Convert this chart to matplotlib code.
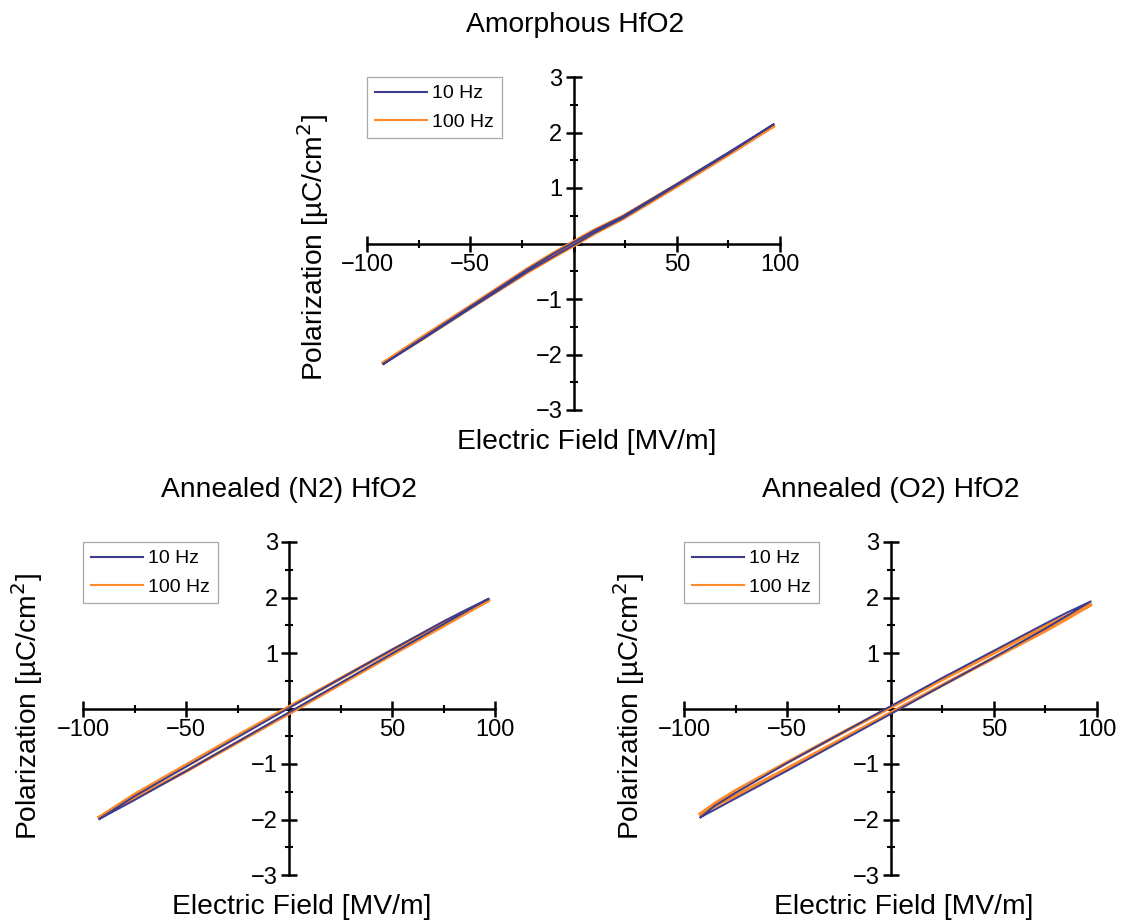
import matplotlib
matplotlib.use("Agg")
import matplotlib.pyplot as plt
from matplotlib.ticker import FixedLocator, FixedFormatter

plt.rcParams['font.family'] = ['Liberation Sans', 'DejaVu Sans']
plt.rcParams['axes.unicode_minus'] = True

# ---------------- data ----------------
titles = ["Amorphous HfO2", "Annealed (N2) HfO2", "Annealed (O2) HfO2"]
labels = ["10 Hz", "100 Hz"]
colors = ["#3d3d8c", "#ff8a2a"]

# Amorphous, 10 Hz: rising branch then falling branch
am10_E = [-92, -75, -50, -22, -10, 0, 10, 24, 50, 75, 97,
          75, 50, 24, 10, 0, -10, -22, -50, -75, -92]
am10_P = [-2.17, -1.77, -1.17, -0.50, -0.24, -0.03, 0.19, 0.46, 1.05, 1.62, 2.15,
          1.64, 1.07, 0.49, 0.23, 0.02, -0.19, -0.46, -1.14, -1.75, -2.17]
# Amorphous, 100 Hz
am100_E = [-92, -75, -50, -22, -10, 0, 10, 24, 50, 75, 97,
           75, 50, 24, 10, 0, -10, -22, -50, -75, -92]
am100_P = [-2.15, -1.76, -1.16, -0.51, -0.25, -0.04, 0.18, 0.45, 1.03, 1.60, 2.12,
           1.62, 1.06, 0.49, 0.24, 0.03, -0.18, -0.45, -1.13, -1.73, -2.15]

# Annealed N2, 10 Hz
n210_E = [-92, -85, -75, -50, -25, 0, 25, 50, 75, 85, 97,
          85, 75, 50, 25, 0, -25, -50, -75, -85, -92]
n210_P = [-1.99, -1.85, -1.65, -1.13, -0.60, -0.07, 0.46, 0.99, 1.52, 1.73, 1.98,
          1.76, 1.57, 1.06, 0.54, 0.01, -0.52, -1.05, -1.58, -1.82, -1.99]
# Annealed N2, 100 Hz
n2100_E = [-92, -85, -75, -50, -25, 0, 25, 50, 75, 85, 97,
           85, 75, 50, 25, 0, -25, -50, -75, -85, -92]
n2100_P = [-1.96, -1.82, -1.62, -1.13, -0.61, -0.09, 0.44, 0.97, 1.49, 1.70, 1.95,
           1.74, 1.55, 1.05, 0.54, 0.03, -0.49, -1.02, -1.55, -1.79, -1.96]

# Annealed O2, 10 Hz
o210_E = [-92, -85, -75, -50, -25, 0, 25, 50, 75, 85, 97,
          85, 75, 50, 25, 0, -25, -50, -75, -85, -92]
o210_P = [-1.96, -1.82, -1.62, -1.12, -0.61, -0.10, 0.41, 0.92, 1.44, 1.66, 1.93,
          1.72, 1.53, 1.04, 0.55, 0.04, -0.47, -0.98, -1.52, -1.75, -1.96]
# Annealed O2, 100 Hz
o2100_E = [-92, -85, -75, -50, -25, 0, 25, 50, 75, 85, 97,
           85, 75, 50, 25, 0, -25, -50, -75, -85, -92]
o2100_P = [-1.90, -1.76, -1.57, -1.08, -0.58, -0.08, 0.42, 0.91, 1.40, 1.61, 1.87,
           1.66, 1.48, 1.00, 0.52, 0.02, -0.47, -0.97, -1.48, -1.71, -1.90]

panels = [
    [(am10_E, am10_P), (am100_E, am100_P)],
    [(n210_E, n210_P), (n2100_E, n2100_P)],
    [(o210_E, o210_P), (o2100_E, o2100_P)],
]

x_ticks = [-100, -50, 0, 50, 100]
x_ticklabels = ["\u2212100", "\u221250", "", "50", "100"]
x_minor = [-75, -25, 25, 75]
y_ticks = [-3, -2, -1, 0, 1, 2, 3]
y_ticklabels = ["\u22123", "\u22122", "\u22121", "", "1", "2", "3"]
y_minor = [-2.5, -1.5, -0.5, 0.5, 1.5, 2.5]
xlabel = "Electric Field [MV/m]"
ylabel = "Polarization [\u00b5C/cm$^2$]"

# ---------------- layout ----------------
W, H = 1123, 923
fig = plt.figure(figsize=(W / 100, H / 100), dpi=100)

# axes boxes in pixels: (left, top, right, bottom)
boxes = [(367, 77, 780, 410), (83, 542, 495, 875), (684, 542, 1097, 875)]
title_pos = [(575, 25), (289, 490), (891, 490)]
xlabel_pos = [(587, 442), (302, 907), (904, 907)]
ylabel_pos = [(313, 248), (27, 707), (629, 707)]

FS_TICK = 17
FS_LAB = 20.3
LWS = [1.4, 2.5]

for i, (l, t, r, b) in enumerate(boxes):
    ax = fig.add_axes([l / W, 1 - b / H, (r - l) / W, (b - t) / H])
    for (E, P), c, lab, lw, z in zip(panels[i], colors, labels, LWS, [3, 2]):
        ax.plot(E, P, color=c, lw=lw, label=lab, zorder=z, solid_joinstyle='round')
    ax.set_xlim(-100, 100)
    ax.set_ylim(-3, 3)
    for s in ['top', 'right']:
        ax.spines[s].set_visible(False)
    for s in ['left', 'bottom']:
        ax.spines[s].set_position(('data', 0))
        ax.spines[s].set_linewidth(1.8)
        ax.spines[s].set_zorder(1)
    ax.xaxis.set_major_locator(FixedLocator(x_ticks))
    ax.xaxis.set_major_formatter(FixedFormatter(x_ticklabels))
    ax.xaxis.set_minor_locator(FixedLocator(x_minor))
    ax.yaxis.set_major_locator(FixedLocator(y_ticks))
    ax.yaxis.set_major_formatter(FixedFormatter(y_ticklabels))
    ax.yaxis.set_minor_locator(FixedLocator(y_minor))
    ax.tick_params(which='major', direction='inout', length=11, width=1.8,
                   labelsize=FS_TICK, pad=2)
    ax.tick_params(which='minor', direction='inout', length=6, width=1.5)
    ax.tick_params(axis='y', which='major', pad=2.5)
    ax.patch.set_alpha(0)
    leg = ax.legend(loc='upper left', bbox_to_anchor=(0, 1), borderaxespad=0,
                    fancybox=False, edgecolor='#a8a8a8', framealpha=1,
                    fontsize=14, handlelength=2.7, handletextpad=0.26,
                    borderpad=0.4, labelspacing=0.55)
    leg.get_frame().set_linewidth(0.9)
    for lh in leg.get_lines():
        lh.set_linewidth(1.5)

    tx, ty = title_pos[i]
    fig.text(tx / W, 1 - ty / H, titles[i], ha='center', va='center', fontsize=FS_LAB)
    xx, xy = xlabel_pos[i]
    fig.text(xx / W, 1 - xy / H, xlabel, ha='center', va='center', fontsize=FS_LAB)
    yx, yy = ylabel_pos[i]
    fig.text(yx / W, 1 - yy / H, ylabel, ha='center', va='center', fontsize=FS_LAB,
             rotation=90)

fig.savefig("out.png", dpi=100, facecolor='white')
